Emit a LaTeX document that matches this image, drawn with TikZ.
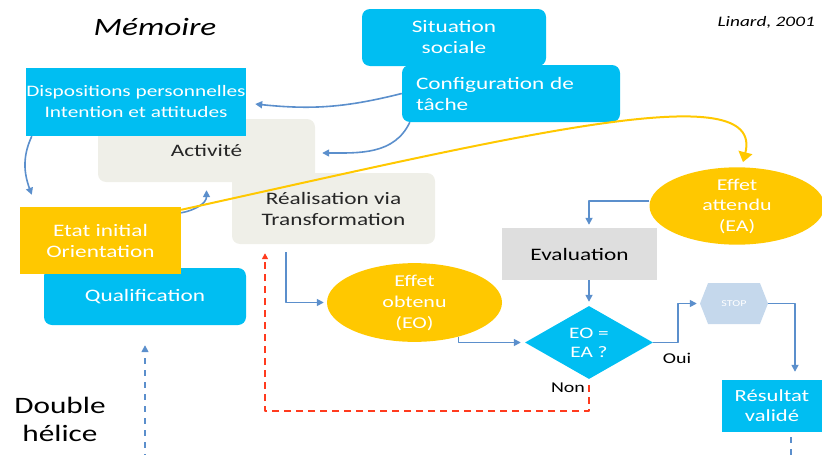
\documentclass[tikz,border=0pt]{standalone}
\usepackage{fontspec}
\setmainfont{Carlito}[FakeStretch=1.33]
\usetikzlibrary{shapes.geometric,shapes.symbols,calc,arrows.meta}
\definecolor{cyanbox}{HTML}{00BEF2}
\definecolor{jaune}{HTML}{FFC800}
\definecolor{grisclair}{HTML}{EFEFE8}
\definecolor{grisbox}{HTML}{DEDEDE}
\definecolor{fleche}{HTML}{5B8FCC}
\definecolor{rouge}{HTML}{FF3B1E}
\definecolor{stopbleu}{HTML}{C5D8EC}
\begin{document}
\begin{tikzpicture}[x=1pt,y=-1pt,>={Triangle[length=7pt,width=7pt]},line join=round]
	\tikzset{txt/.style={font=\fontsize{17.5}{21}\selectfont,inner sep=0pt,align=center},
		bleu/.style={txt,fill=cyanbox,text=white,rounded corners=8pt},
		carre/.style={rounded corners=0pt},
		pale/.style={txt,fill=grisclair,text=black!85,rounded corners=8pt},
		jaunebox/.style={txt,fill=jaune,text=white},
		effet/.style={txt,ellipse,fill=jaune,text=white,minimum width=175pt,minimum height=65pt},
		lien/.style={fleche,line width=1.6pt,->},
		label/.style={font=\fontsize{15}{18}\selectfont,inner sep=0pt}}
	\useasboundingbox (0,0) rectangle (822,455);
	% boites du haut
	\node[bleu,minimum width=184pt,minimum height=57pt] (sit) at (454,37.5) {Situation\\sociale};
	\node[bleu,minimum width=218pt,minimum height=57pt,text width=190pt,align=left] (conf) at (511,93.5) {Configuration de\\tâche};
	\node[pale,minimum width=217pt,minimum height=63pt] (act) at (206.5,150.5) {Activité};
	\node[bleu,carre,minimum width=220pt,minimum height=68pt,font=\fontsize{16}{21}\selectfont] (disp) at (136,102) {Dispositions personnelles\\Intention et attitudes};
	\node[pale,minimum width=203pt,minimum height=71pt] (real) at (333.5,208.5) {Réalisation via\\Transformation};
	\node[bleu,minimum width=202pt,minimum height=57pt] (qual) at (145,296.5) {Qualification};
	\node[jaunebox,minimum width=161pt,minimum height=67pt] (etat) at (100.5,240.5) {Etat initial\\Orientation};
	% boucle evaluation
	\node[effet,font=\fontsize{16.5}{20.5}\selectfont] (ea) at (737,206) {Effet\\attendu\\(EA)};
	\node[txt,fill=grisbox,text=black,minimum width=155pt,minimum height=52pt] (eval) at (579.5,254) {Evaluation};
	\node[effet,font=\fontsize{16.5}{21}\selectfont] (eo) at (414.5,302.5) {Effet\\obtenu\\(EO)};
	\node[txt,diamond,aspect=1.75,fill=cyanbox,text=white,minimum width=128pt,minimum height=73pt,font=\fontsize{16}{19}\selectfont] (dia) at (589,342.5) {EO =\\EA ?};
	\node[signal,signal to=west and east,signal pointer angle=137,fill=stopbleu,text=white,minimum width=68pt,minimum height=41pt,inner sep=0pt,font=\fontsize{9}{10}\selectfont] (stop) at (734,303.5) {STOP};
	\node[bleu,carre,minimum width=100pt,minimum height=52pt,font=\fontsize{17}{20}\selectfont] (res) at (772,406) {Résultat\\validé};
	% textes
	\node[label] (oui) at (677,358) {Oui};
	\node[label] (non) at (568,388) {Non};
	\node[font=\fontsize{25}{30}\selectfont\itshape,inner sep=0pt] (memoire) at (155,27) {Mémoire};
	\node[font=\fontsize{14.5}{17}\selectfont\itshape,inner sep=0pt,anchor=east] (linard) at (815,22) {Linard, 2001};
	\node[font=\fontsize{23.5}{28}\selectfont,inner sep=0pt,align=center] (helice) at (60,419) {Double\\hélice};
	% fleches
	\draw[lien] (conf.west) to[bend left=10] ([xshift=9pt,yshift=-2pt]disp.east);
	\draw[lien] ([xshift=8pt]conf.south west) to[out=-115,in=0] ([xshift=7pt,yshift=-2.5pt]act.east);
	\draw[lien] ([xshift=6pt]disp.south west) to[out=-115,in=110] ([xshift=12pt,yshift=12pt]etat.north west);
	\draw[lien] ([yshift=-6pt]etat.north east) to[out=10,in=-90] ([yshift=-8pt]act.south);
	\draw[jaune,line width=2pt,-{Triangle[length=10pt,width=14pt]}] ([yshift=-3pt]etat.north east) .. controls (520,135) and (765,75) .. ([xshift=6pt,yshift=5pt]ea.north);
	\draw[lien] ([yshift=5pt]ea.west) -| ($(dia.north |- eval.north)+(0,-3)$);
	\draw[lien] (dia.north |- eval.south) -- ([yshift=4pt]dia.north);
	\draw[lien] ($(real.south)+(-47.5,8)$) |- ([xshift=-3pt]eo.west);
	\draw[lien] (eo.-38) |- ([xshift=-4pt]dia.west);
	\draw[lien] (dia.east) -- ++(25,0) |- ([xshift=-3pt]stop.west);
	\draw[lien] (stop.east) -| ([xshift=23pt,yshift=8pt]res.north);
	\draw[rouge,line width=2pt,dash pattern=on 7pt off 5pt,-{Triangle[length=6pt,width=6pt]}] ([yshift=-6pt]dia.south) -- ++(0,26) -| ([xshift=-68.5pt,yshift=-9pt]real.south);
	\draw[lien,dash pattern=on 6pt off 6pt] ([xshift=19pt,yshift=-5pt]res.south) -- ++(0,18.2) -| ([yshift=-20pt]qual.south);
\end{tikzpicture}
\end{document}
